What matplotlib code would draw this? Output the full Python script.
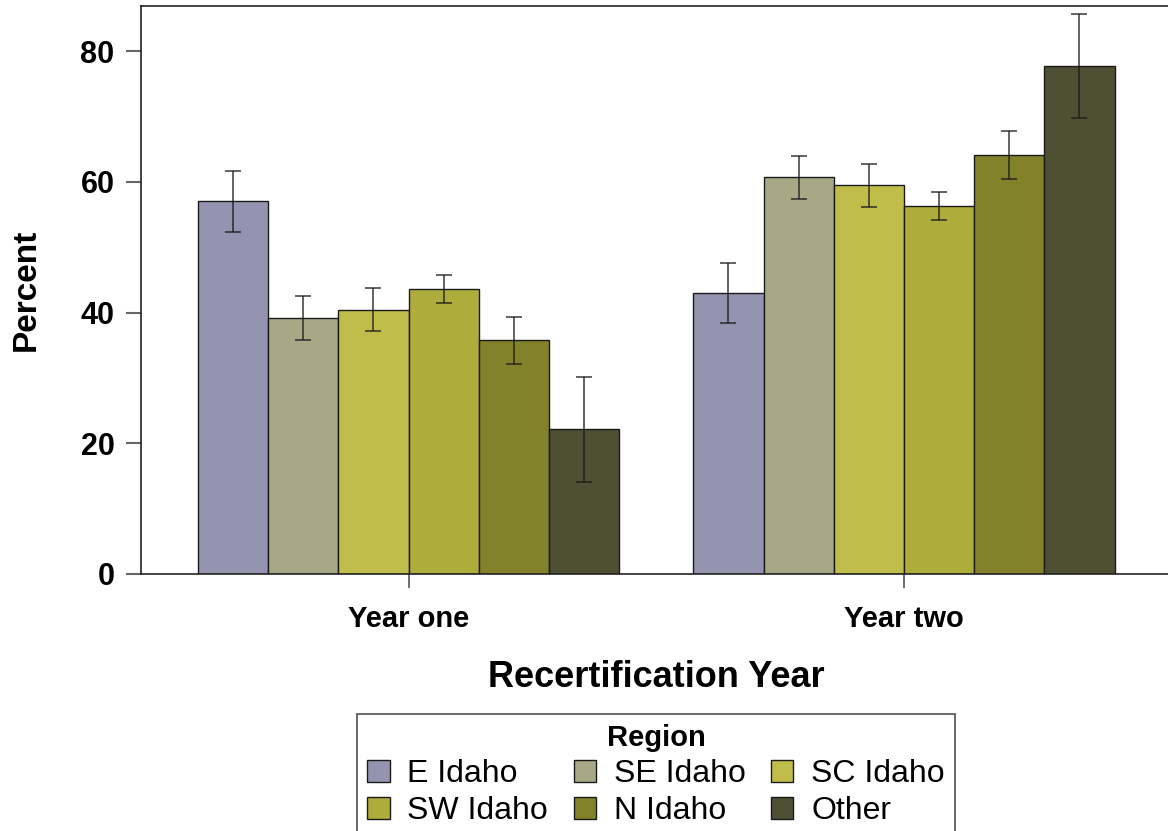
import matplotlib
matplotlib.use("Agg")
import matplotlib.pyplot as plt
from matplotlib.patches import Patch
import numpy as np

plt.rcParams['font.family'] = ['Liberation Sans', 'DejaVu Sans']

years = ["Year one", "Year two"]
regions = ["E Idaho", "SE Idaho", "SC Idaho", "SW Idaho", "N Idaho", "Other"]
colors = ["#9494B0", "#A8A886", "#C0BD4A", "#AEAC3A", "#82822A", "#4F4F34"]

# percent by region, one list per recertification year
pct_year_one = [57.1, 39.2, 40.4, 43.6, 35.8, 22.2]
pct_year_two = [43.0, 60.7, 59.5, 56.3, 64.1, 77.7]
# confidence limits
lower_year_one = [52.3, 35.8, 37.2, 41.5, 32.1, 14.1]
upper_year_one = [61.6, 42.5, 43.7, 45.7, 39.3, 30.1]
lower_year_two = [38.4, 57.4, 56.1, 54.1, 60.4, 69.8]
upper_year_two = [47.6, 63.9, 62.7, 58.4, 67.8, 85.7]

values = np.array([pct_year_one, pct_year_two])
lower = np.array([lower_year_one, lower_year_two])
upper = np.array([upper_year_one, upper_year_two])

fig = plt.figure(figsize=(11.68, 8.31), dpi=100)
ax = fig.add_axes([0.1207, 0.3093, 0.8827, 0.6835])

x = np.arange(len(years))
width = 0.1417
n = len(regions)
for i, (reg, col) in enumerate(zip(regions, colors)):
    pos = x + (i - (n - 1) / 2) * width
    v = values[:, i]
    ax.bar(pos, v, width=width, color=col, edgecolor="#1a1a1a", linewidth=1.0, zorder=2)
    yerr = np.vstack([v - lower[:, i], upper[:, i] - v])
    ax.errorbar(pos, v, yerr=yerr, fmt="none", ecolor="#1a1a1a", elinewidth=1.2,
                capsize=6, capthick=1.2, alpha=0.8, zorder=3)

ax.set_xlim(-0.540, 1.541)
ax.set_ylim(0, 86.9)
ax.set_xticks(x)
ax.set_xticklabels(years, fontsize=21, fontweight="bold")
ax.set_yticks([0, 20, 40, 60, 80])
ax.set_yticklabels(["0", "20", "40", "60", "80"], fontsize=22, fontweight="bold")
ax.tick_params(axis="y", length=11, width=1.5, color="#666666", pad=8)
ax.tick_params(axis="x", length=10, width=1.2, color="#555555", pad=12)

for side in ["left", "top", "bottom"]:
    ax.spines[side].set_linewidth(1.2)
    ax.spines[side].set_color("#222222")
ax.spines["right"].set_visible(False)

ax.set_xlabel("Recertification Year", fontsize=26, fontweight="bold", labelpad=20)
ax.set_ylabel("Percent", fontsize=24, fontweight="bold", labelpad=28)

# legend in row-major order with three columns
order = [0, 3, 1, 4, 2, 5]
handles = [Patch(facecolor=colors[k], edgecolor="#1a1a1a", linewidth=1.0) for k in order]
labels = [regions[k] for k in order]
leg = fig.legend(handles, labels, ncol=3, loc="upper center",
                 bbox_to_anchor=(0.5617, 1 - 714 / 831), title="Region",
                 fontsize=23, title_fontproperties={"weight": "bold", "size": 21},
                 frameon=True, fancybox=False, edgecolor="#222222",
                 handlelength=0.7, handleheight=0.7, handletextpad=0.55,
                 columnspacing=0.8, labelspacing=0.22, borderpad=0.32, borderaxespad=0)
leg.get_frame().set_linewidth(1.2)

fig.savefig("out.png", dpi=100)
